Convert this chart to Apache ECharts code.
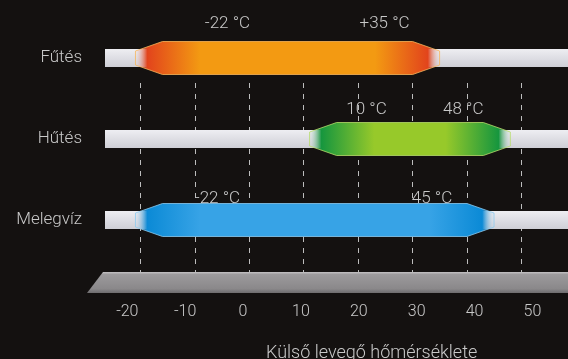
<!DOCTYPE html>
<html>
<head>
<meta charset="utf-8">
<script src="https://cdn.jsdelivr.net/npm/echarts@6/dist/echarts.min.js"></script>
<style>
  html, body { margin: 0; padding: 0; background: #141110; }
  #chart { width: 568px; height: 359px; }
</style>
</head>
<body>
<div id="chart"></div>
<script>
// operating ranges by mode (outdoor temperature, °C)
const rows = ['Fűtés', 'Hűtés', 'Melegvíz'];
const rangeStart = [-22, 10, -22];
const rangeEnd = [35, 48, 45];
const startLabels = ['-22 °C', '10 °C', '-22 °C'];
const endLabels = ['+35 °C', '48 °C', '45 °C'];
const ticks = [-20, -10, 0, 10, 20, 30, 40, 50];
const axisTitle = 'Külső levegő hőmérséklete';

// look of each row: end colour, middle colour, label placement
const palette = [
  { end: '#e2441c', mid: '#f39a12', edge: '#f7b55a' },
  { end: '#16963e', mid: '#97c92a', edge: '#b6dc6a' },
  { end: '#0b8ad6', mid: '#37a3e6', edge: '#8ccaf0' }
];
const labelLift = [34, 29, 21];
const labelInL = [98, 63, 88];
const labelInR = [55, 47, 62];

const FONT = 'Roboto';
const TEXT = '#c9c9c9';

const chart = echarts.init(document.getElementById('chart'), null, { renderer: 'canvas' });

const rangeData = rows.map((r, i) => [i, rangeStart[i], rangeEnd[i]]);

function renderTrack(params, api) {
  const cs = params.coordSys;
  const p = api.coord([0, api.value(0)]);
  return {
    type: 'rect',
    shape: { x: cs.x, y: p[1] - 9, width: cs.width, height: 18 },
    style: {
      fill: new echarts.graphic.LinearGradient(0, 0, 0, 1, [
        { offset: 0, color: '#eeeef2' },
        { offset: 0.5, color: '#dedee4' },
        { offset: 1, color: '#cfcfd6' }
      ])
    }
  };
}

function renderRange(params, api) {
  const i = api.value(0);
  const a = api.coord([api.value(1), i]);
  const b = api.coord([api.value(2), i]);
  const y = a[1], x1 = a[0] + 6, x2 = b[0];
  const hf = 16.5, ht = 7, tp = 27;
  const c = palette[i];
  const pts = [
    [x1, y - ht], [x1 + tp, y - hf], [x2 - tp, y - hf], [x2, y - ht],
    [x2, y + ht], [x2 - tp, y + hf], [x1 + tp, y + hf], [x1, y + ht]
  ];
  const f = tp / (x2 - x1);
  const font = '300 17px ' + FONT;
  return {
    type: 'group',
    children: [
      {
        type: 'polygon',
        shape: { points: pts },
        style: {
          fill: new echarts.graphic.LinearGradient(0, 0, 1, 0, [
            { offset: 0, color: 'rgba(230,230,235,0.2)' },
            { offset: f * 0.45, color: c.end },
            { offset: f * 2.4, color: c.mid },
            { offset: 1 - f * 2.4, color: c.mid },
            { offset: 1 - f * 0.45, color: c.end },
            { offset: 1, color: 'rgba(230,230,235,0.2)' }
          ]),
          stroke: c.edge,
          lineWidth: 0.8
        }
      },
      {
        type: 'text',
        style: {
          text: startLabels[i], x: a[0] + labelInL[i], y: y - labelLift[i],
          fill: TEXT, font: font, align: 'center', verticalAlign: 'middle'
        }
      },
      {
        type: 'text',
        style: {
          text: endLabels[i], x: x2 - labelInR[i], y: y - labelLift[i],
          fill: TEXT, font: font, align: 'center', verticalAlign: 'middle'
        }
      }
    ]
  };
}

const option = {
  backgroundColor: '#141110',
  animation: false,
  textStyle: { fontFamily: FONT },
  title: {
    text: axisTitle,
    left: 261, top: 339,
    textStyle: { color: TEXT, fontSize: 18, fontWeight: 300, fontFamily: FONT }
  },
  grid: [
    { left: 105, right: 0, top: 17.5, height: 243 },
    { left: 140.4, right: 46.8, top: 83, height: 190 },
    { left: 127.3, right: 35.6, top: 273, height: 18 }
  ],
  xAxis: [
    { gridIndex: 0, type: 'value', min: -26.5, max: 58.6, show: false },
    {
      gridIndex: 1, type: 'value', min: -20, max: 50, interval: 10,
      axisLine: { show: false }, axisTick: { show: false }, axisLabel: { show: false },
      splitLine: { show: true, lineStyle: { color: '#bdbdbd', width: 1, type: [5, 6] } }
    },
    {
      gridIndex: 2, type: 'value', min: -20, max: 50, interval: 10,
      axisLine: { show: false }, axisTick: { show: false }, splitLine: { show: false },
      axisLabel: { color: TEXT, fontSize: 16, fontWeight: 300, fontFamily: FONT, margin: 13 }
    }
  ],
  yAxis: [
    {
      gridIndex: 0, type: 'category', data: rows, inverse: true,
      axisLine: { show: false }, axisTick: { show: false }, splitLine: { show: false },
      axisLabel: { color: TEXT, fontSize: 17, fontWeight: 300, fontFamily: FONT, margin: 23 }
    },
    { gridIndex: 1, type: 'value', show: false, min: 0, max: 1 },
    { gridIndex: 2, type: 'value', show: false, min: 0, max: 1 }
  ],
  graphic: [
    {
      type: 'polygon', z: 0,
      shape: { points: [[103, 272], [568, 272], [568, 293], [87, 293]] },
      style: {
        fill: new echarts.graphic.LinearGradient(0, 0, 0, 1, [
          { offset: 0, color: '#c4c2c4' },
          { offset: 0.12, color: '#9c9a9c' },
          { offset: 0.8, color: '#8a888a' },
          { offset: 1, color: '#6e6c6e' }
        ])
      }
    }
  ],
  series: [
    {
      type: 'custom', xAxisIndex: 0, yAxisIndex: 0, z: 2,
      data: rangeData, renderItem: renderTrack, silent: true
    },
    {
      type: 'custom', xAxisIndex: 0, yAxisIndex: 0, z: 3,
      data: rangeData, renderItem: renderRange, silent: true
    },
    { type: 'line', xAxisIndex: 1, yAxisIndex: 1, data: [] },
    { type: 'line', xAxisIndex: 2, yAxisIndex: 2, data: ticks.map(t => [t, 0]), showSymbol: false, lineStyle: { opacity: 0 } }
  ]
};

chart.setOption(option);
</script>
</body>
</html>
